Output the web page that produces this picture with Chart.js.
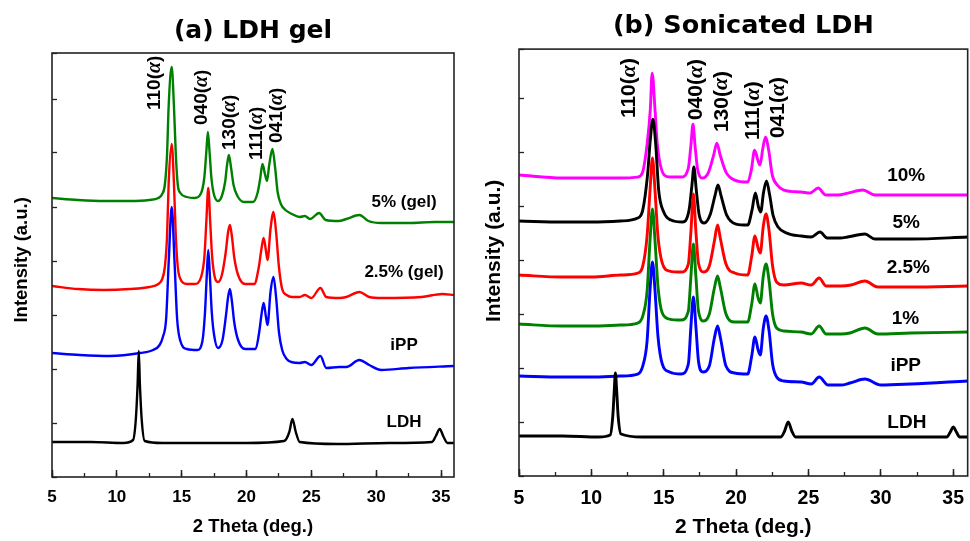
<!DOCTYPE html>
<html>
<head>
<meta charset="utf-8">
<script src="https://cdn.jsdelivr.net/npm/chart.js@4.4.1/dist/chart.umd.min.js"></script>
<style>
  html, body { margin: 0; padding: 0; background: #fff; overflow: hidden; width: 970px; height: 541px; }
  #chartA { position: absolute; left: 0; top: 0; }
  #chartB { position: absolute; left: 480px; top: 0; }
</style>
</head>
<body>
<canvas id="chartA" width="480" height="541"></canvas>
<canvas id="chartB" width="502" height="541"></canvas>
<script>
// XRD patterns, [2 theta (deg), intensity (a.u., stacked)]
// (a) LDH gel
const gelLdh = [[5,35],[8,35],[10.5,34],[11.25,37],[11.46,57],[11.6,92],[11.69,126],[11.78,92],[11.92,57],[12.15,36],[13.5,34],[17,34],[20,34],[22.9,36],[23.3,45],[23.54,58],[23.8,45],[24.1,35],[27,33],[31,34],[34.3,35],[34.6,41],[34.9,48],[35.2,40],[35.5,34],[36,34]];
const gelIpp = [[5,124],[7.15,122],[9.46,121],[11.8,124],[12.8,127],[13.3,132],[13.55,140],[13.8,158],[14.0,215],[14.23,270],[14.45,215],[14.65,158],[14.9,136],[15.4,128],[16.2,127],[16.6,136],[16.8,165],[16.93,200],[17.05,227],[17.18,200],[17.32,165],[17.5,142],[17.8,129],[18.15,137],[18.42,162],[18.58,180],[18.72,188],[18.88,175],[19.05,155],[19.35,137],[19.9,128],[20.7,128],[20.98,145],[21.15,162],[21.32,174],[21.5,160],[21.62,152],[21.85,185],[22.08,200],[22.28,180],[22.5,145],[22.75,127],[23.1,118],[23.46,115],[24.1,114],[24.5,115],[25.0,112],[25.7,121],[26.15,109],[27.15,110],[27.7,110],[28.7,117],[29.46,112],[30.4,107],[32.5,109],[36,111]];
const gel25 = [[5,191],[7,188],[9,187],[11,188],[12.5,190],[13.2,193],[13.5,198],[13.7,210],[13.87,240],[14.0,295],[14.23,333],[14.4,295],[14.55,240],[14.7,210],[14.9,198],[15.4,193],[16.0,193],[16.5,200],[16.75,220],[16.9,255],[17.05,289],[17.2,255],[17.35,220],[17.55,200],[17.8,195],[18.1,202],[18.4,225],[18.58,245],[18.72,252],[18.88,240],[19.05,220],[19.35,202],[19.9,193],[20.6,193],[20.95,210],[21.15,228],[21.32,239],[21.5,226],[21.62,217],[21.85,248],[22.08,265],[22.28,245],[22.5,210],[22.75,188],[23.1,182],[23.5,180],[24.1,180],[24.5,182],[25.0,179],[25.7,189],[26.15,180],[27.15,179],[27.7,180],[28.7,185],[29.46,180],[30.46,179],[33.5,180],[35.1,183],[36,182]];
const gel5 = [[5,279],[7,277],[9,276],[11,276],[12.5,277],[13.2,279],[13.5,283],[13.7,292],[13.87,322],[14.0,372],[14.23,410],[14.4,372],[14.55,322],[14.7,292],[14.9,284],[15.4,280],[16.0,279],[16.5,284],[16.75,300],[16.9,325],[17.02,345],[17.15,325],[17.3,298],[17.5,282],[17.8,276],[18.1,281],[18.35,295],[18.5,312],[18.64,322],[18.8,310],[19.0,292],[19.3,281],[19.8,275],[20.5,275],[20.85,284],[21.05,298],[21.23,313],[21.42,303],[21.58,296],[21.75,312],[22.0,328],[22.2,310],[22.4,285],[22.65,273],[23.0,267],[23.5,263],[24.1,260],[24.5,261],[24.9,258],[25.6,264],[26.1,257],[27.1,256],[27.7,258],[28.7,262],[29.4,256],[30.4,254],[32.5,254],[34.5,255],[36,255]];

// (b) sonicated LDH
const sonLdh = [[5,40],[8,40],[10.5,39],[11.3,41],[11.48,60],[11.58,85],[11.66,103],[11.75,85],[11.85,60],[12.05,42],[13.5,39],[17,39],[20,39],[23.1,39],[23.35,45],[23.6,54],[23.85,45],[24.1,39],[27,39],[31,39],[34.55,39],[34.8,44],[35.0,49],[35.22,44],[35.45,39],[36,39]];
const sonIpp = [[5,100],[8,99],[10,99],[12,100],[13.2,102],[13.55,110],[13.85,135],[14.05,185],[14.22,214],[14.4,185],[14.6,140],[14.9,112],[15.4,104],[16.2,102],[16.7,112],[16.88,150],[17.05,179],[17.22,150],[17.4,115],[17.7,104],[18.15,110],[18.5,138],[18.72,150],[18.92,138],[19.3,110],[19.9,103],[20.8,102],[21.08,120],[21.3,139],[21.52,126],[21.67,121],[21.88,148],[22.07,160],[22.28,145],[22.52,112],[22.8,99],[23.3,95],[24.5,94],[25.19,92],[25.74,99],[26.36,91],[27.25,91],[27.87,93],[28.9,97],[30.0,91],[32.06,92],[36,95]];
const son1 = [[5,152],[8,150],[10,150],[12,151],[13.2,153],[13.55,160],[13.85,185],[14.05,235],[14.22,267],[14.4,235],[14.6,190],[14.9,163],[15.4,157],[16.2,156],[16.7,165],[16.88,200],[17.05,232],[17.22,200],[17.4,165],[17.77,155],[18.15,162],[18.5,188],[18.72,200],[18.92,188],[19.3,162],[19.9,154],[20.8,154],[21.08,172],[21.3,192],[21.52,178],[21.67,173],[21.88,200],[22.07,212],[22.28,195],[22.52,162],[22.8,148],[23.3,145],[24.5,144],[25.19,142],[25.74,150],[26.22,142],[27.25,142],[27.87,143],[28.9,148],[29.79,142],[32.06,143],[36,144]];
const son25 = [[5,201],[8,199],[10,199],[12,201],[13.2,203],[13.55,210],[13.85,240],[14.05,285],[14.22,318],[14.4,285],[14.6,240],[14.9,213],[15.4,205],[16.2,204],[16.7,212],[16.88,245],[17.05,282],[17.22,245],[17.4,213],[17.77,204],[18.15,210],[18.5,235],[18.72,251],[18.92,237],[19.3,212],[19.9,203],[20.8,201],[21.08,220],[21.3,240],[21.52,228],[21.67,223],[21.88,250],[22.07,262],[22.28,245],[22.52,210],[22.8,194],[23.3,191],[24.5,193],[25.19,191],[25.74,198],[26.22,190],[27.25,190],[27.94,191],[28.9,195],[29.79,189],[32.06,189],[36,190]];
const son5 = [[5,255],[8,254],[10,254],[12,255],[13.2,258],[13.55,266],[13.88,301],[14.07,336],[14.25,357],[14.45,331],[14.65,286],[15.0,264],[15.5,256],[16.3,254],[16.75,266],[16.95,291],[17.08,309],[17.25,286],[17.45,261],[17.8,253],[18.2,261],[18.55,281],[18.75,291],[18.95,281],[19.35,261],[20.0,252],[20.8,251],[21.1,266],[21.33,283],[21.55,269],[21.7,264],[21.9,284],[22.1,295],[22.32,281],[22.55,261],[22.9,249],[23.5,243],[24.5,240],[25.17,239],[25.8,244],[26.3,238],[27.2,238],[27.7,239],[28.9,242],[29.6,237],[32.1,237],[36,239]];
const son10 = [[5,301],[8,298],[10,298],[12,298],[13.2,299],[13.52,303],[13.86,333],[14.07,366],[14.2,403],[14.4,366],[14.55,333],[15.03,301],[15.4,299],[16.2,299],[16.7,308],[16.88,331],[17.02,352],[17.16,331],[17.35,306],[17.7,298],[18.1,304],[18.45,321],[18.67,333],[18.9,321],[19.3,304],[19.9,296],[20.8,294],[21.05,306],[21.28,326],[21.5,316],[21.65,311],[21.85,328],[22.03,339],[22.25,326],[22.5,301],[22.85,291],[23.3,286],[24.5,284],[25.12,283],[25.67,288],[26.2,281],[27.05,281],[27.73,283],[28.76,286],[29.59,281],[32.06,281],[36,281]];

// reflection labels [hkl, 2 theta, intensity at label start]
const peaksA = [['110', 12.92, 367], ['040', 16.54, 352], ['130', 18.69, 327], ['111', 20.77, 317], ['041', 22.31, 334]];
const peaksB = [['110', 12.62, 358], ['040', 17.23, 356], ['130', 19.01, 344], ['111', 21.21, 336], ['041', 22.93, 338]];
// curve names [text, 2 theta, intensity]
const namesA = [['5% (gel)', 32.15, 275], ['2.5% (gel)', 32.15, 205], ['iPP', 32.15, 132], ['LDH', 32.15, 55]];
const namesB = [['10%', 31.75, 300], ['5%', 31.75, 253], ['2.5%', 31.9, 208], ['1%', 31.7, 157], ['iPP', 31.72, 110], ['LDH', 31.8, 53]];

const sans = '"Liberation Sans", Arial, sans-serif';
const serif = '"Liberation Serif", "Times New Roman", serif';
Chart.defaults.font.family = sans;
Chart.defaults.color = '#000';

const toXY = arr => arr.map(p => ({ x: p[0], y: p[1] }));

// box around the plot area
const framePlugin = {
  id: 'frame',
  afterDatasetsDraw(chart) {
    const { ctx, chartArea: a } = chart;
    ctx.save();
    ctx.strokeStyle = '#222';
    ctx.lineWidth = 1.6;
    ctx.strokeRect(a.left, a.top, a.right - a.left, a.bottom - a.top);
    ctx.restore();
  }
};

// hkl labels (rotated) and curve names
const textPlugin = {
  id: 'xrdText',
  afterDatasetsDraw(chart, args, opts) {
    const { ctx, scales: { x, y } } = chart;
    ctx.save();
    ctx.fillStyle = '#000';
    ctx.textBaseline = 'middle';
    for (const [hkl, t, v] of opts.peaks) {
      ctx.save();
      ctx.translate(x.getPixelForValue(t), y.getPixelForValue(v));
      ctx.rotate(-Math.PI / 2);
      ctx.textAlign = 'left';
      let pos = 0;
      ctx.font = `bold ${opts.peakSize}px ${sans}`;
      ctx.fillText(hkl + '(', pos, 0);
      pos += ctx.measureText(hkl + '(').width;
      ctx.font = `italic bold ${opts.peakSize + 1}px ${serif}`;
      ctx.fillText('\u03b1', pos, 0);
      pos += ctx.measureText('\u03b1').width;
      ctx.font = `bold ${opts.peakSize}px ${sans}`;
      ctx.fillText(')', pos, 0);
      ctx.restore();
    }
    ctx.textAlign = 'center';
    ctx.font = `bold ${opts.nameSize}px ${sans}`;
    for (const [txt, t, v] of opts.names) {
      ctx.fillText(txt, x.getPixelForValue(t), y.getPixelForValue(v));
    }
    ctx.restore();
  }
};

function line(data, color, width) {
  return {
    data: toXY(data),
    borderColor: color,
    borderWidth: width,
    pointRadius: 0,
    cubicInterpolationMode: 'monotone',
    fill: false
  };
}

function makeChart(id, cfg) {
  return new Chart(document.getElementById(id), {
    type: 'line',
    data: { datasets: cfg.datasets },
    options: {
      responsive: false,
      animation: false,
      events: [],
      layout: { padding: { left: 0, right: cfg.padRight, top: 0, bottom: 0 } },
      plugins: {
        legend: { display: false },
        tooltip: { enabled: false },
        title: {
          display: true,
          text: cfg.title,
          fullSize: false,
          color: '#000',
          font: { family: '"DejaVu Sans", sans-serif', size: cfg.titleSize, weight: 'bold', lineHeight: 1.2 },
          padding: cfg.titlePad
        },
        xrdText: { peaks: cfg.peaks, names: cfg.names, peakSize: cfg.peakSize, nameSize: cfg.nameSize }
      },
      scales: {
        x: {
          type: 'linear',
          position: 'bottom',
          weight: 1,
          min: 5,
          max: 36,
          ticks: { stepSize: 5, includeBounds: false, maxRotation: 0, padding: cfg.tickPad, font: { size: cfg.tickSize, weight: 'bold' } },
          grid: { drawOnChartArea: false, tickLength: -7, tickWidth: 1.5, tickColor: '#222' },
          border: { display: false },
          title: { display: true, text: '2 Theta (deg.)', font: { size: cfg.axisTitleSize, weight: 'bold' }, padding: { top: 0, bottom: cfg.xTitleBottom } },
          afterFit(s) { s.height = cfg.xHeight; }
        },
        xMinor: {
          type: 'linear',
          position: 'bottom',
          weight: 0,
          min: 5,
          max: 36,
          ticks: { display: false, stepSize: 2.5, includeBounds: false },
          grid: { drawOnChartArea: false, tickLength: -4, tickWidth: 1.3, tickColor: '#222' },
          border: { display: false },
          afterFit(s) { s.height = 0; }
        },
        y: {
          type: 'linear',
          min: 0,
          max: cfg.yMax,
          ticks: { display: false, stepSize: cfg.yStep },
          grid: { drawOnChartArea: false, tickLength: -5, tickWidth: 1.3, tickColor: '#222' },
          border: { display: false },
          // leading spaces nudge the rotated title a little upward
          title: { display: true, text: cfg.yTitle, font: { size: cfg.axisTitleSize, weight: 'bold' }, padding: { top: cfg.yTitleTop, bottom: 0 } },
          afterFit(s) { s.width = cfg.yWidth; }
        }
      }
    },
    plugins: [framePlugin, textPlugin]
  });
}

makeChart('chartA', {
  title: '(a) LDH gel',
  titleSize: 25,
  titlePad: { top: 16.5, bottom: 6.5 },
  padRight: 26,
  xHeight: 64,
  yWidth: 52,
  yMax: 424,
  yStep: 54,
  tickSize: 17,
  tickPad: 17,
  axisTitleSize: 18.5,
  xTitleBottom: 3,
  yTitle: '  Intensity (a.u.)',
  yTitleTop: 11,
  peakSize: 19,
  nameSize: 17,
  peaks: peaksA,
  names: namesA,
  datasets: [
    line(gelLdh, '#000000', 2.4),
    line(gelIpp, '#0000ff', 2.4),
    line(gel25, '#ff0000', 2.4),
    line(gel5, '#008000', 2.4)
  ]
});

makeChart('chartB', {
  title: '(b) Sonicated LDH',
  titleSize: 25.5,
  titlePad: { top: 11.5, bottom: 7 },
  padRight: 11,
  xHeight: 65,
  yWidth: 39,
  yMax: 427,
  yStep: 54,
  tickSize: 19.5,
  tickPad: 17.5,
  axisTitleSize: 21,
  xTitleBottom: 1,
  yTitle: '    Intensity (a.u.)',
  yTitleTop: 1.5,
  peakSize: 21,
  nameSize: 19,
  peaks: peaksB,
  names: namesB,
  datasets: [
    line(sonLdh, '#000000', 2.9),
    line(sonIpp, '#0000ff', 2.9),
    line(son1, '#008000', 2.9),
    line(son25, '#ff0000', 2.9),
    line(son5, '#000000', 2.9),
    line(son10, '#ff00ff', 2.9)
  ]
});
</script>
</body>
</html>
